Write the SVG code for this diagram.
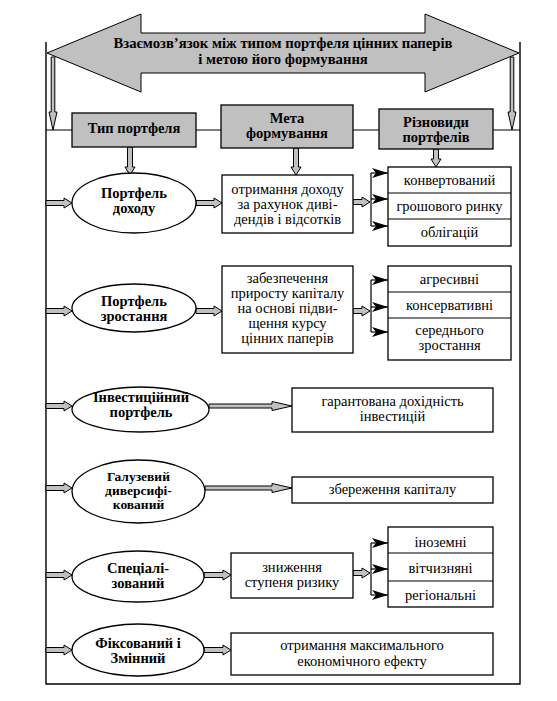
<svg xmlns="http://www.w3.org/2000/svg" width="557" height="701" viewBox="0 0 557 701">
<defs>
<style>
.frame{fill:none;stroke:#000;stroke-width:1.4}
.hdr{fill:#c0c0c0;stroke:#000;stroke-width:1.3}
.box{fill:#fff;stroke:#000;stroke-width:1.3}
.ln{fill:none;stroke:#000;stroke-width:1.2}
.ha{fill:#c0c0c0;stroke:#000;stroke-width:1}
</style>
<marker id="stealth" viewBox="0 0 16 10" refX="16" refY="5" markerWidth="16" markerHeight="10" markerUnits="userSpaceOnUse" orient="auto">
<path d="M0,0 L16,5 L0,10 L4,5 Z" fill="#000"/>
</marker>
</defs>
<rect x="0" y="0" width="557" height="701" fill="#fff"/>

<g id="frame">
<path class="frame" d="M46,42 V684 H520 V42"/>
</g>

<g id="title">
<path class="ha" d="M47,53 L141,14 V33 H425 V14 L519,53 L425,92 V73 H141 V92 Z"/>
<text x="283" y="48" font-family="Liberation Serif" font-size="14.7" font-weight="bold" text-anchor="middle">Взаємозв’язок між типом портфеля цінних паперів</text>
<text x="283" y="64" font-family="Liberation Serif" font-size="14.7" font-weight="bold" text-anchor="middle">і метою його формування</text>
</g>

<g id="connectors">
<path class="ln" d="M46,130 H72 M196,130 H221 M353,130 H379 M493,130 H520"/>
<path class="ha" d="M51.2,57 V112 H49 L53,130 L57,112 H54.8 V57 Z"/>
<path class="ha" d="M510.2,57 V112 H508 L512,130 L516,112 H513.8 V57 Z"/>
<path class="ha" d="M127.5,147 V167 H125 L130,175 L135,167 H132.5 V147 Z"/>
<path class="ha" d="M293.5,148 V167 H291 L296,175 L301,167 H298.5 V148 Z"/>
<path class="ha" d="M433.5,149 V159 H431 L436,167 L441,159 H438.5 V149 Z"/>
<path class="ha" d="M46,200.5 H64 V198 L72,203 L64,208 V205.5 H46 Z"/>
<path class="ha" d="M46,308.5 H64 V306 L72,311 L64,316 V313.5 H46 Z"/>
<path class="ha" d="M46,403.5 H64 V401 L72,406 L64,411 V408.5 H46 Z"/>
<path class="ha" d="M46,485.5 H64 V483 L72,488 L64,493 V490.5 H46 Z"/>
<path class="ha" d="M46,572.5 H64 V570 L72,575 L64,580 V577.5 H46 Z"/>
<path class="ha" d="M46,647.5 H64 V645 L72,650 L64,655 V652.5 H46 Z"/>
<path class="ha" d="M196,200.5 H214 V198 L222,203 L214,208 V205.5 H196 Z"/>
<path class="ha" d="M196,308.5 H214 V306 L222,311 L214,316 V313.5 H196 Z"/>
<path class="ha" d="M209,404 H272 V401.5 L292,406 L272,410.5 V408 H209 Z"/>
<path class="ha" d="M205,486 H272 V483.5 L292,488 L272,492.5 V490 H205 Z"/>
<path class="ha" d="M204,572.5 H223 V570 L231,575 L223,580 V577.5 H204 Z"/>
<path class="ha" d="M204,647.5 H223 V645 L231,650 L223,655 V652.5 H204 Z"/>
<path class="ha" d="M353,199.5 H362 V197 L370,202 L362,207 V204.5 H353 Z"/>
<path class="ha" d="M353,308.5 H362 V306 L370,311 L362,316 V313.5 H353 Z"/>
<path class="ha" d="M353,570.5 H362 V568 L370,573 L362,578 V575.5 H353 Z"/>
<path class="ln" d="M371,173 V226"/>
<path class="ln" d="M371,173 H388" marker-end="url(#stealth)"/>
<path class="ln" d="M371,199 H388" marker-end="url(#stealth)"/>
<path class="ln" d="M371,226 H388" marker-end="url(#stealth)"/>
<path class="ln" d="M371,280 V332"/>
<path class="ln" d="M371,280 H388" marker-end="url(#stealth)"/>
<path class="ln" d="M371,307 H388" marker-end="url(#stealth)"/>
<path class="ln" d="M371,332 H388" marker-end="url(#stealth)"/>
<path class="ln" d="M371,543 V595"/>
<path class="ln" d="M371,543 H388" marker-end="url(#stealth)"/>
<path class="ln" d="M371,569 H388" marker-end="url(#stealth)"/>
<path class="ln" d="M371,595 H388" marker-end="url(#stealth)"/>
</g>

<g id="hdr-type">
<rect class="hdr" x="72" y="113" width="124" height="34"/>
<text x="134" y="133" font-family="Liberation Serif" font-size="14.5" font-weight="bold" text-anchor="middle">Тип портфеля</text>
</g>
<g id="hdr-goal">
<rect class="hdr" x="221" y="105" width="132" height="43"/>
<text x="287" y="123" font-family="Liberation Serif" font-size="14.5" font-weight="bold" text-anchor="middle">Мета</text>
<text x="287" y="138" font-family="Liberation Serif" font-size="14.5" font-weight="bold" text-anchor="middle">формування</text>
</g>
<g id="hdr-kinds">
<rect class="hdr" x="379" y="109" width="114" height="40"/>
<text x="436" y="127" font-family="Liberation Serif" font-size="14.5" font-weight="bold" text-anchor="middle">Різновиди</text>
<text x="436" y="142" font-family="Liberation Serif" font-size="14.5" font-weight="bold" text-anchor="middle">портфелів</text>
</g>

<g id="type-income">
<ellipse class="box" cx="134" cy="203" rx="62" ry="30"/>
<text x="134" y="198" font-family="Liberation Serif" font-size="14.5" font-weight="bold" text-anchor="middle">Портфель</text>
<text x="134" y="213" font-family="Liberation Serif" font-size="14.5" font-weight="bold" text-anchor="middle">доходу</text>
</g>
<g id="goal-income">
<rect class="box" x="222" y="175" width="131" height="58"/>
<text x="287.5" y="194" font-family="Liberation Serif" font-size="14.5" text-anchor="middle">отримання доходу</text>
<text x="287.5" y="209" font-family="Liberation Serif" font-size="14.5" text-anchor="middle">за рахунок диві-</text>
<text x="287.5" y="224" font-family="Liberation Serif" font-size="14.5" text-anchor="middle">дендів і відсотків</text>
</g>
<g id="kinds-income">
<rect class="box" x="388" y="167" width="123" height="79"/>
<path class="ln" d="M388,193 H511 M388,219 H511"/>
<text x="449.5" y="185" font-family="Liberation Serif" font-size="14.5" text-anchor="middle">конвертований</text>
<text x="449.5" y="211" font-family="Liberation Serif" font-size="14.5" text-anchor="middle">грошового ринку</text>
<text x="449.5" y="237" font-family="Liberation Serif" font-size="14.5" text-anchor="middle">облігацій</text>
</g>

<g id="type-growth">
<ellipse class="box" cx="134" cy="308" rx="62" ry="24"/>
<text x="134" y="306" font-family="Liberation Serif" font-size="14.5" font-weight="bold" text-anchor="middle">Портфель</text>
<text x="134" y="321" font-family="Liberation Serif" font-size="14.5" font-weight="bold" text-anchor="middle">зростання</text>
</g>
<g id="goal-growth">
<rect class="box" x="222" y="266" width="131" height="87"/>
<text x="287.5" y="283" font-family="Liberation Serif" font-size="14.5" text-anchor="middle">забезпечення</text>
<text x="287.5" y="298" font-family="Liberation Serif" font-size="14.5" text-anchor="middle">приросту капіталу</text>
<text x="287.5" y="313" font-family="Liberation Serif" font-size="14.5" text-anchor="middle">на основі підви-</text>
<text x="287.5" y="328" font-family="Liberation Serif" font-size="14.5" text-anchor="middle">щення курсу</text>
<text x="287.5" y="343" font-family="Liberation Serif" font-size="14.5" text-anchor="middle">цінних паперів</text>
</g>
<g id="kinds-growth">
<rect class="box" x="388" y="266" width="123" height="94"/>
<path class="ln" d="M388,292 H511 M388,318 H511"/>
<text x="449.5" y="284" font-family="Liberation Serif" font-size="14.5" text-anchor="middle">агресивні</text>
<text x="449.5" y="310" font-family="Liberation Serif" font-size="14.5" text-anchor="middle">консервативні</text>
<text x="449.5" y="335" font-family="Liberation Serif" font-size="14.5" text-anchor="middle">середнього</text>
<text x="449.5" y="350" font-family="Liberation Serif" font-size="14.5" text-anchor="middle">зростання</text>
</g>

<g id="type-invest">
<ellipse class="box" cx="140.5" cy="409.5" rx="68.5" ry="22.5"/>
<text x="141" y="401.5" font-family="Liberation Serif" font-size="14.5" font-weight="bold" text-anchor="middle">Інвестиційний</text>
<text x="141" y="416.5" font-family="Liberation Serif" font-size="14.5" font-weight="bold" text-anchor="middle">портфель</text>
</g>
<g id="goal-invest">
<rect class="box" x="292" y="388" width="201" height="44"/>
<text x="392.5" y="405.5" font-family="Liberation Serif" font-size="14.5" text-anchor="middle">гарантована дохідність</text>
<text x="392.5" y="420.5" font-family="Liberation Serif" font-size="14.5" text-anchor="middle">інвестицій</text>
</g>

<g id="type-sector">
<ellipse class="box" cx="138.5" cy="491.5" rx="66.5" ry="31.5"/>
<text x="138.5" y="480.5" font-family="Liberation Serif" font-size="13.5" font-weight="bold" text-anchor="middle">Галузевий</text>
<text x="138.5" y="494.5" font-family="Liberation Serif" font-size="13.5" font-weight="bold" text-anchor="middle">диверсифі-</text>
<text x="138.5" y="508.5" font-family="Liberation Serif" font-size="13.5" font-weight="bold" text-anchor="middle">кований</text>
</g>
<g id="goal-sector">
<rect class="box" x="292" y="477" width="201" height="26"/>
<text x="392.5" y="494" font-family="Liberation Serif" font-size="14.5" text-anchor="middle">збереження капіталу</text>
</g>

<g id="type-special">
<ellipse class="box" cx="138" cy="576.5" rx="66" ry="25.5"/>
<text x="138" y="573" font-family="Liberation Serif" font-size="14.5" font-weight="bold" text-anchor="middle">Спеціалі-</text>
<text x="138" y="588" font-family="Liberation Serif" font-size="14.5" font-weight="bold" text-anchor="middle">зований</text>
</g>
<g id="goal-special">
<rect class="box" x="231" y="553" width="122" height="45"/>
<text x="292" y="572" font-family="Liberation Serif" font-size="14.5" text-anchor="middle">зниження</text>
<text x="292" y="587" font-family="Liberation Serif" font-size="14.5" text-anchor="middle">ступеня ризику</text>
</g>
<g id="kinds-special">
<rect class="box" x="388" y="527" width="105" height="80"/>
<path class="ln" d="M388,553 H493 M388,581 H493"/>
<text x="440.5" y="547" font-family="Liberation Serif" font-size="14.5" text-anchor="middle">іноземні</text>
<text x="440.5" y="573" font-family="Liberation Serif" font-size="14.5" text-anchor="middle">вітчизняні</text>
<text x="440.5" y="600" font-family="Liberation Serif" font-size="14.5" text-anchor="middle">регіональні</text>
</g>

<g id="type-fixed">
<ellipse class="box" cx="138" cy="650" rx="66" ry="26"/>
<text x="138" y="647.5" font-family="Liberation Serif" font-size="14.5" font-weight="bold" text-anchor="middle">Фіксований і</text>
<text x="138" y="662.5" font-family="Liberation Serif" font-size="14.5" font-weight="bold" text-anchor="middle">Змінний</text>
</g>
<g id="goal-fixed">
<rect class="box" x="231" y="633" width="262" height="42"/>
<text x="362" y="650" font-family="Liberation Serif" font-size="14.5" text-anchor="middle">отримання максимального</text>
<text x="362" y="666" font-family="Liberation Serif" font-size="14.5" text-anchor="middle">економічного ефекту</text>
</g>
</svg>
